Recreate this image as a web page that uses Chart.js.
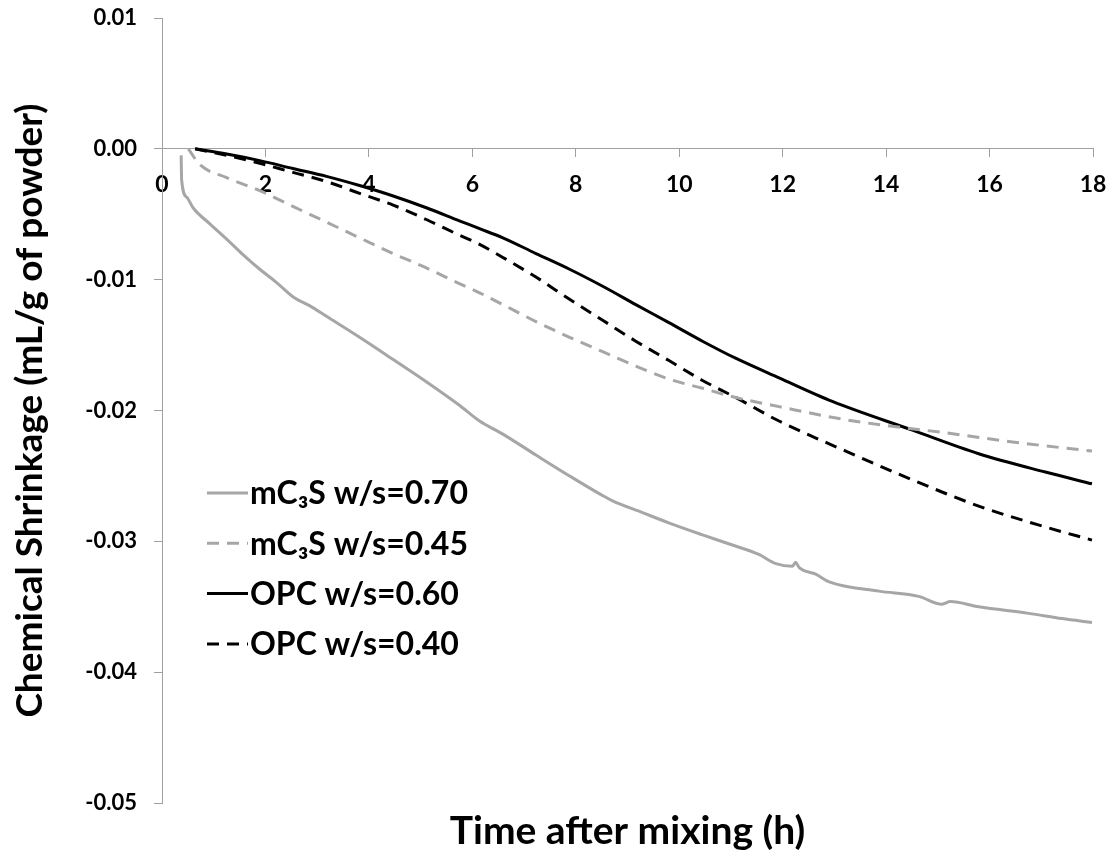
<!DOCTYPE html>
<html>
<head>
<meta charset="utf-8">
<title>Chemical Shrinkage</title>
<script src="https://cdn.jsdelivr.net/npm/chart.js@4"></script>
<style>
  html, body { margin: 0; padding: 0; background: #fff; }
  #wrap { width: 1115px; height: 853px; }
</style>
</head>
<body>
<div id="wrap"><canvas id="chart" width="1115" height="853"></canvas></div>
<script>
const FONT = "Lato, 'DejaVu Sans', sans-serif";
const GRAY = "#a6a6a6";
const AXIS = "#a0a0a0";

// x ticks 0..18 h, y ticks 0.01..-0.05
const xTicks = [0, 2, 4, 6, 8, 10, 12, 14, 16, 18];
const yTicks = [0.01, 0, -0.01, -0.02, -0.03, -0.04, -0.05];

// mC3S w/s=0.70
const mc3s70Hours = [0.37, 0.38, 0.48, 0.60, 0.93, 1.25, 1.57, 1.89, 2.21, 2.53, 2.86, 3.18, 3.82, 4.47, 5.11, 5.75, 6.14,
  6.59, 7.23, 7.88, 8.52, 8.71, 9.29, 9.81, 10.45, 10.97, 11.54, 11.87, 12.19, 12.25, 12.32, 12.64, 12.90,
  13.86, 14.63, 15.08, 15.24, 15.79, 16.76, 17.40, 17.98];
const mc3s70Values = [-0.0005, -0.0024, -0.0037, -0.0045, -0.00575, -0.0069, -0.0081, -0.0092, -0.0102, -0.0113, -0.0120, -0.0128, -0.0144, -0.0161, -0.0178, -0.0196, -0.0208,
  -0.0218, -0.0234, -0.0250, -0.0265, -0.0269, -0.0278, -0.0286, -0.0295, -0.0302, -0.0310, -0.0317, -0.0319, -0.0316, -0.0320, -0.0325, -0.0331,
  -0.0338, -0.0342, -0.0348, -0.0346, -0.0350, -0.0355, -0.0359, -0.0362];

// mC3S w/s=0.45
const mc3s45Hours = [0.51, 0.73, 1.25, 1.89, 2.53, 3.18, 3.82, 4.47, 5.11, 5.75, 6.14, 6.59, 7.23, 7.88, 8.52, 9.16, 9.81,
  10.45, 11.09, 11.93, 13.22, 14.31, 15.15, 16.44, 17.98];
const mc3s45Values = [0, -0.0012, -0.0022, -0.0032, -0.0044, -0.0056, -0.0068, -0.0080, -0.0091, -0.0103, -0.0110, -0.0119, -0.0132, -0.0144, -0.0155, -0.0166, -0.0176,
  -0.0183, -0.0190, -0.0197, -0.0207, -0.0213, -0.0217, -0.0224, -0.0231];

// OPC w/s=0.60
const opc60Hours = [0.64, 1.25, 1.89, 2.53, 3.18, 3.82, 4.47, 5.11, 5.75, 6.14, 6.59, 7.23, 7.88, 8.52, 9.16, 9.81,
  10.45, 11.09, 11.93, 12.96, 14.51, 15.79, 17.08, 17.98];
const opc60Values = [0, -0.0004, -0.0009, -0.0015, -0.0021, -0.0028, -0.0036, -0.0045, -0.0055, -0.0061, -0.0068, -0.0080, -0.0092, -0.0105, -0.0119, -0.0133,
  -0.0147, -0.0160, -0.0175, -0.0193, -0.0215, -0.0233, -0.0247, -0.0256];

// OPC w/s=0.40
const opc40Hours = [0.64, 1.25, 1.89, 2.53, 3.18, 3.82, 4.47, 5.11, 5.75, 6.14, 6.59, 7.23, 7.88, 8.52, 9.16, 9.81,
  10.45, 11.09, 11.93, 13.22, 14.51, 15.79, 17.08, 17.98];
const opc40Values = [0, -0.0005, -0.0011, -0.0018, -0.0025, -0.0034, -0.0043, -0.0054, -0.0066, -0.0073, -0.0083, -0.0098, -0.0115, -0.0131, -0.0147, -0.0162,
  -0.0177, -0.0190, -0.0208, -0.0231, -0.0253, -0.0273, -0.0289, -0.0299];

const toPoints = (xs, ys) => xs.map((x, i) => ({ x, y: ys[i] }));

const series = (label, xs, ys, color, dash) => ({
  label,
  data: toPoints(xs, ys),
  borderColor: color,
  backgroundColor: color,
  borderWidth: 3,
  borderDash: dash,
  pointRadius: 0,
  cubicInterpolationMode: "monotone",
  fill: false,
});

// legend drawn inside the plot, lines + bold labels
const plotLegend = {
  id: "plotLegend",
  afterDatasetsDraw(chart) {
    const { ctx, chartArea } = chart;
    const x0 = chartArea.left + 45;
    const lineLen = 41;
    let y = 493;
    ctx.save();
    ctx.font = "bold 32px " + FONT;
    ctx.textBaseline = "middle";
    ctx.textAlign = "left";
    chart.data.datasets.forEach((ds) => {
      ctx.beginPath();
      ctx.setLineDash(ds.borderDash || []);
      ctx.strokeStyle = ds.borderColor;
      ctx.lineWidth = 3;
      ctx.moveTo(x0, y);
      ctx.lineTo(x0 + lineLen, y);
      ctx.stroke();
      ctx.setLineDash([]);
      ctx.fillStyle = "#000";
      ctx.fillText(ds.label, x0 + lineLen + 2, y + 1);
      y += 50.3;
    });
    ctx.restore();
  },
};

new Chart(document.getElementById("chart"), {
  type: "line",
  data: {
    datasets: [
      series("mC₃S w/s=0.70", mc3s70Hours, mc3s70Values, GRAY, []),
      series("mC₃S w/s=0.45", mc3s45Hours, mc3s45Values, GRAY, [12, 8]),
      series("OPC w/s=0.60", opc60Hours, opc60Values, "#000", []),
      series("OPC w/s=0.40", opc40Hours, opc40Values, "#000", [12, 8]),
    ],
  },
  options: {
    responsive: false,
    animation: false,
    layout: { padding: { left: 0, right: 22, top: 18, bottom: 0 } },
    plugins: {
      legend: { display: false },
      tooltip: { enabled: false },
      title: {
        display: true,
        position: "bottom",
        fullSize: false,
        text: "Time after mixing (h)",
        color: "#000",
        font: { family: FONT, size: 39, weight: "bold", lineHeight: 1.1 },
        padding: { top: 7, bottom: 0 },
      },
    },
    scales: {
      x: {
        type: "linear",
        position: { y: 0 },
        min: 0,
        max: 18,
        afterBuildTicks: (scale) => { scale.ticks = xTicks.map((v) => ({ value: v })); },
        afterFit: (scale) => { scale.paddingLeft = 0; scale.paddingRight = 0; },
        ticks: {
          color: "#000",
          font: { family: FONT, size: 23, weight: "bold" },
          padding: 14,
          maxRotation: 0,
          autoSkip: false,
        },
        grid: { drawOnChartArea: false, drawTicks: true, tickLength: 8, color: AXIS },
        border: { color: AXIS, width: 1 },
      },
      y: {
        type: "linear",
        min: -0.05,
        max: 0.01,
        afterBuildTicks: (scale) => { scale.ticks = yTicks.map((v) => ({ value: v })); },
        afterFit: (scale) => {
          scale.width = 162;
          scale.paddingTop = 0;
          scale.paddingBottom = 0;
        },
        ticks: {
          color: "#000",
          font: { family: FONT, size: 22, weight: "bold" },
          padding: 17,
          callback: (v) => (Math.abs(v) < 1e-9 ? "0.00" : v.toFixed(2)),
        },
        grid: { drawOnChartArea: false, drawTicks: true, tickLength: 8, color: AXIS },
        border: { color: AXIS, width: 1 },
        title: {
          display: true,
          text: "Chemical Shrinkage (mL/g of powder)",
          color: "#000",
          font: { family: FONT, size: 37, weight: "bold" },
          padding: { top: 8, bottom: 0 },
        },
      },
    },
  },
  plugins: [plotLegend],
});
</script>
</body>
</html>
